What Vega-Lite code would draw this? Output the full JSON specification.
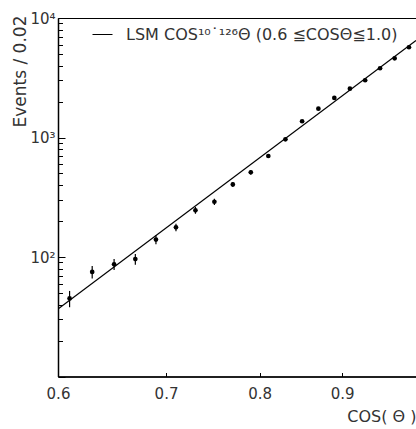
{
  "$schema": "https://vega.github.io/schema/vega-lite/v6.json",
  "width": 358,
  "height": 358.5,
  "autosize": "none",
  "padding": {"left": 58, "top": 18, "right": 0, "bottom": 52.5},
  "background": "white",
  "config": {
    "view": {"stroke": "black", "strokeWidth": 1},
    "font": "DejaVu Sans",
    "axis": {"grid": false, "domainColor": "black", "domainWidth": 1.5, "tickColor": "black", "labelColor": "#333", "titleColor": "#333", "titleFontWeight": "normal", "labelFlush": false, "labelOverlap": false, "labelBound": false}
  },
  "resolve": {"axis": {"y": "independent"}},
  "datasets": {
    "pts": [
      {"c": 0.61, "n": 45, "lo": 38, "hi": 52},
      {"c": 0.63, "n": 75, "lo": 66, "hi": 84},
      {"c": 0.65, "n": 87, "lo": 78, "hi": 96},
      {"c": 0.67, "n": 96, "lo": 86, "hi": 106},
      {"c": 0.69, "n": 140, "lo": 128, "hi": 152},
      {"c": 0.71, "n": 177, "lo": 164, "hi": 190},
      {"c": 0.73, "n": 246, "lo": 230, "hi": 262},
      {"c": 0.75, "n": 290, "lo": 273, "hi": 307},
      {"c": 0.77, "n": 405, "lo": 385, "hi": 425},
      {"c": 0.79, "n": 512, "lo": 489, "hi": 535},
      {"c": 0.81, "n": 700, "lo": 674, "hi": 726},
      {"c": 0.83, "n": 966, "lo": 935, "hi": 997},
      {"c": 0.85, "n": 1367, "lo": 1330, "hi": 1404},
      {"c": 0.87, "n": 1742, "lo": 1700, "hi": 1784},
      {"c": 0.89, "n": 2142, "lo": 2096, "hi": 2188},
      {"c": 0.91, "n": 2560, "lo": 2509, "hi": 2611},
      {"c": 0.93, "n": 3013, "lo": 2958, "hi": 3068},
      {"c": 0.95, "n": 3796, "lo": 3734, "hi": 3858},
      {"c": 0.97, "n": 4600, "lo": 4532, "hi": 4668},
      {"c": 0.99, "n": 5690, "lo": 5615, "hi": 5765}
    ],
    "fit": [
      {"c": 0.6, "n": 36.7},
      {"c": 1.0, "n": 6470}
    ]
  },
  "layer": [
    {
      "data": {"name": "fit"},
      "mark": {"type": "line", "color": "black", "strokeWidth": 1.2, "clip": true},
      "encoding": {
        "x": {
          "field": "c", "type": "quantitative",
          "scale": {"type": "log", "domain": [0.6, 1.0], "nice": false},
          "axis": {
            "values": [0.6, 0.7, 0.8, 0.9], "format": ".1f",
            "tickSize": -4, "tickWidth": 1, "labelPadding": 14, "labelFontSize": 15,
            "title": "COS( Θ )", "titleFontSize": 16, "titleX": 358, "titleY": 40,
            "titleAlign": "right", "titleBaseline": "middle"
          }
        },
        "y": {
          "field": "n", "type": "quantitative",
          "scale": {"type": "log", "domain": [10, 10000], "nice": false},
          "axis": {
            "orient": "left",
            "values": [10, 100, 1000, 10000],
            "labelExpr": "datum.value == 100 ? '10²' : datum.value == 1000 ? '10³' : datum.value == 10000 ? '10⁴' : ''",
            "tickSize": -7, "tickWidth": 1, "labelPadding": 10, "labelFontSize": 15,
            "title": "Events / 0.02", "titleFontSize": 17, "titleAngle": -90,
            "titleX": -38, "titleY": 53, "titleAlign": "center", "titleBaseline": "middle"
          }
        },
        "color": {
          "datum": "LSM COS¹⁰˙¹²⁶Θ (0.6 ≦COSΘ≦1.0)",
          "scale": {"range": ["black"]},
          "legend": {
            "orient": "none", "legendX": 34, "legendY": 6, "title": null,
            "symbolType": "stroke", "symbolSize": 400, "symbolStrokeWidth": 1,
            "labelFontSize": 16, "labelLimit": 0, "padding": 0, "labelOffset": 13,
            "labelColor": "#333", "labelFont": "DejaVu Sans"
          }
        }
      }
    },
    {
      "data": {"name": "pts"},
      "mark": {"type": "rule", "color": "black", "strokeWidth": 1.2},
      "encoding": {
        "x": {"field": "c", "type": "quantitative"},
        "y": {
          "field": "lo", "type": "quantitative",
          "axis": {
            "orient": "left",
            "values": [20, 30, 40, 50, 60, 70, 80, 90, 200, 300, 400, 500, 600, 700, 800, 900, 2000, 3000, 4000, 5000, 6000, 7000, 8000, 9000],
            "labels": false, "domain": false, "title": null,
            "tickSize": -4.5, "tickWidth": 1
          }
        },
        "y2": {"field": "hi"}
      }
    },
    {
      "data": {"name": "pts"},
      "mark": {"type": "point", "shape": "circle", "filled": true, "color": "black", "opacity": 1, "size": 22},
      "encoding": {
        "x": {"field": "c", "type": "quantitative"},
        "y": {"field": "n", "type": "quantitative", "axis": null}
      }
    }
  ]
}
